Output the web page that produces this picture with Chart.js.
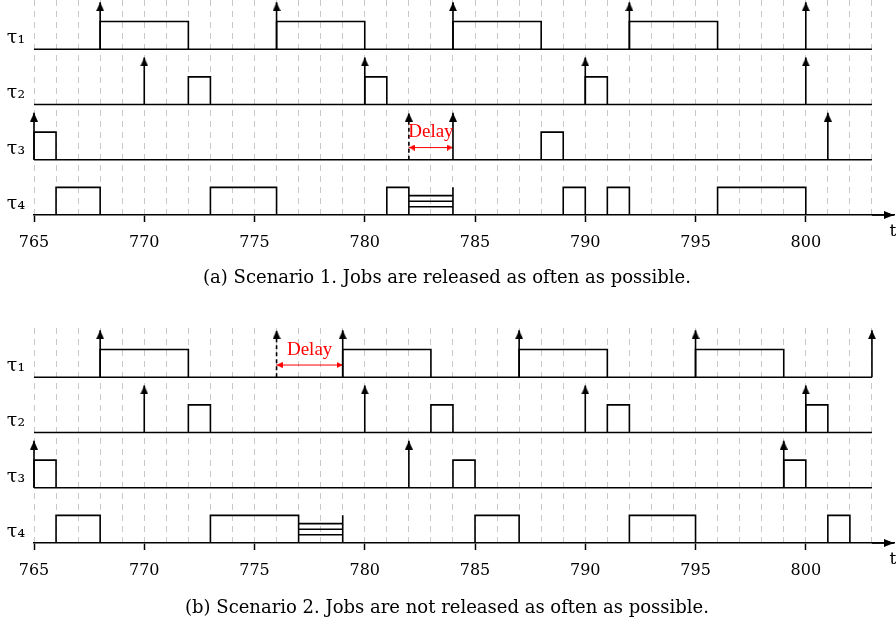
<!DOCTYPE html>
<html>
<head>
<meta charset="utf-8">
<script src="https://cdn.jsdelivr.net/npm/chart.js@4.4.1/dist/chart.umd.min.js"></script>
<style>
  html, body { margin: 0; padding: 0; background: #fff; }
  .panel { position: absolute; left: 0; width: 896px; height: 297px; }
</style>
</head>
<body>
<div class="panel" style="top:0"><canvas id="scenario1"></canvas></div>
<div class="panel" style="top:328px"><canvas id="scenario2"></canvas></div>
<script>
// time axis
const tMin = 765, tMax = 803, tEnd = 804;
const tickLabels = [765, 770, 775, 780, 785, 790, 795, 800];
const taskNames = ['τ₁', 'τ₂', 'τ₃', 'τ₄'];
const axisName = 't';
const delayText = 'Delay';

// scenario 1 - one list per task (tau1..tau4)
const s1Releases = [[768, 776, 784, 792, 800], [770, 780, 790, 800], [765, 784, 801], []];
const s1Earliest = [[], [], [782], []];
const s1Jobs = [
  [[768, 772], [776, 780], [784, 788], [792, 796]],
  [[772, 773], [780, 781], [790, 791]],
  [[765, 766], [788, 789]],
  [[766, 768], [773, 776], [781, 782], [789, 790], [791, 792], [796, 800]]
];
const s1Blocked = [[], [], [], [[782, 784]]];
const s1Delay = [2, 782, 784]; // task index, from, to
const s1Caption = '(a) Scenario 1. Jobs are released as often as possible.';

// scenario 2
const s2Releases = [[768, 779, 787, 795, 803], [770, 780, 790, 800], [765, 782, 799], []];
const s2Earliest = [[776], [], [], []];
const s2Jobs = [
  [[768, 772], [779, 783], [787, 791], [795, 799]],
  [[772, 773], [783, 784], [791, 792], [800, 801]],
  [[765, 766], [784, 785], [799, 800]],
  [[766, 768], [773, 777], [785, 787], [792, 795], [801, 802]]
];
const s2Blocked = [[], [], [], [[777, 779]]];
const s2Delay = [0, 776, 779];
const s2Caption = '(b) Scenario 2. Jobs are not released as often as possible.';

// drawing sizes, in row units
const BOX_H = 0.5, ARROW_H = 0.85, DELAY_Y = 0.22, DELAY_TEXT_Y = 0.5, LABEL_Y = 0.2;
const HATCH = [0.3, 0.5, 0.7];
const INK = '#000', GRID = '#c8c8c8', RED = '#ff0000';
const SERIF = '"DejaVu Serif", serif';

const base = r => taskNames.length - 1 - r;
const gap = x => ({x: x, y: null});

// arrow head picture with its tip in the centre
function headImage(len, half, color) {
    const c = document.createElement('canvas');
    c.width = Math.round(half * 2);
    c.height = len * 2;
    const g = c.getContext('2d');
    g.fillStyle = color;
    g.beginPath();
    g.moveTo(c.width / 2, len);
    g.lineTo(c.width, len * 2);
    g.lineTo(0, len * 2);
    g.closePath();
    g.fill();
    return c;
}
const blackHead = headImage(9, 4, INK);
const redHead = headImage(6, 3, RED);
const axisHead = headImage(10, 4, INK);

function baselinePoints() {
    const pts = [];
    for (let r = 0; r < taskNames.length - 1; r++) {
        pts.push({x: tMin, y: base(r)}, {x: tMax, y: base(r)}, gap(tMax));
    }
    return pts;
}

function boxPoints(jobs) {
    const pts = [];
    jobs.forEach((list, r) => list.forEach(([a, b]) => {
        const y0 = base(r), y1 = y0 + BOX_H;
        pts.push({x: a, y: y0}, {x: a, y: y1}, {x: b, y: y1}, {x: b, y: y0}, gap(b));
    }));
    return pts;
}

function hatchPoints(blocked) {
    const pts = [];
    blocked.forEach((list, r) => list.forEach(([a, b]) => {
        const y0 = base(r);
        HATCH.forEach(f => pts.push({x: a, y: y0 + f * BOX_H}, {x: b, y: y0 + f * BOX_H}, gap(b)));
        pts.push({x: b, y: y0}, {x: b, y: y0 + BOX_H}, gap(b));
    }));
    return pts;
}

function arrowPoints(list) {
    const pts = [];
    list.forEach((xs, r) => xs.forEach(x => {
        pts.push({x: x, y: base(r)}, {x: x, y: base(r) + ARROW_H, tip: true}, gap(x));
    }));
    return pts;
}

function lineSet(data, extra) {
    return Object.assign({
        data: data, borderColor: INK, borderWidth: 1.6, pointRadius: 0,
        fill: false, tension: 0, clip: false, spanGaps: false
    }, extra || {});
}

// red "Delay" text and the axis name
const textPlugin = {
    id: 'textPlugin',
    afterDatasetsDraw(chart, args, opts) {
        const [r, a, b] = opts.delay;
        const {x, y} = chart.scales;
        const ctx = chart.ctx;
        ctx.save();
        ctx.textAlign = 'center';
        ctx.textBaseline = 'middle';
        ctx.fillStyle = RED;
        ctx.font = '19px "Liberation Serif", serif';
        ctx.fillText(delayText, x.getPixelForValue((a + b) / 2), y.getPixelForValue(base(r) + DELAY_TEXT_Y));
        ctx.fillStyle = INK;
        ctx.font = '17px ' + SERIF;
        ctx.fillText(axisName, x.getPixelForValue(tEnd) - 1, chart.chartArea.bottom + 17);
        ctx.restore();
    }
};

function makeChart(id, releases, earliest, jobs, blocked, delay, caption, capTop) {
    const ctx = document.getElementById(id).getContext('2d');
    return new Chart(ctx, {
        type: 'line',
        data: {
            datasets: [
                lineSet(baselinePoints()),
                lineSet(boxPoints(jobs)),
                lineSet(hatchPoints(blocked)),
                lineSet(arrowPoints(releases), {
                    pointStyle: blackHead,
                    pointRadius: c => (c.raw && c.raw.tip ? 4 : 0)
                }),
                lineSet(arrowPoints(earliest), {
                    borderDash: [4, 3],
                    pointStyle: blackHead,
                    pointRadius: c => (c.raw && c.raw.tip ? 4 : 0)
                }),
                lineSet([
                    {x: delay[1], y: base(delay[0]) + DELAY_Y, head: -90},
                    {x: delay[2], y: base(delay[0]) + DELAY_Y, head: 90}
                ], {
                    borderColor: RED, borderWidth: 1,
                    pointStyle: redHead, pointRadius: 3,
                    pointRotation: c => (c.raw ? c.raw.head : 0)
                }),
                lineSet([{x: tMax, y: 0}, {x: tEnd, y: 0, head: 90}], {
                    pointStyle: axisHead,
                    pointRadius: c => (c.raw && c.raw.head ? 4 : 0),
                    pointRotation: 90
                })
            ]
        },
        options: {
            responsive: true,
            maintainAspectRatio: false,
            animation: false,
            events: [],
            layout: {autoPadding: false, padding: {left: 0, right: 2, top: 0, bottom: 0}},
            plugins: {
                legend: {display: false},
                tooltip: {enabled: false},
                title: {
                    display: true, position: 'bottom', text: caption, color: INK,
                    font: {family: SERIF, size: 18, weight: 'normal'},
                    padding: {top: capTop, bottom: 20.4 - capTop}
                },
                textPlugin: {delay: delay}
            },
            scales: {
                x: {
                    type: 'linear', min: tMin, max: tEnd,
                    afterFit: s => { s.height = 40; s.paddingLeft = 0; s.paddingRight = 0; },
                    grid: {
                        color: c => (c.tick && c.tick.value <= tMax ? GRID : 'rgba(0,0,0,0)'),
                        lineWidth: 1,
                        tickLength: 7,
                        tickWidth: 1.5,
                        tickColor: c => (c.tick && tickLabels.includes(c.tick.value) ? INK : 'rgba(0,0,0,0)')
                    },
                    border: {display: true, color: INK, width: 1.6, dash: [6, 5]},
                    ticks: {
                        stepSize: 1, autoSkip: false, maxRotation: 0, minRotation: 0,
                        padding: 11, color: INK,
                        font: {family: SERIF, size: 16},
                        callback: v => (tickLabels.includes(v) ? String(v) : '')
                    }
                },
                y: {
                    min: 0, max: 3.89,
                    afterFit: s => { s.width = 34; s.paddingTop = 0; s.paddingBottom = 0; },
                    afterBuildTicks: s => { s.ticks = taskNames.map((_, i) => ({value: i + LABEL_Y})); },
                    grid: {display: false, drawTicks: false},
                    border: {display: false},
                    ticks: {
                        padding: 9, color: INK,
                        font: {family: SERIF, size: 19},
                        callback: (v, i) => taskNames[taskNames.length - 1 - i]
                    }
                }
            }
        },
        plugins: [textPlugin]
    });
}

document.addEventListener('DOMContentLoaded', function() {
    makeChart('scenario1', s1Releases, s1Earliest, s1Jobs, s1Blocked, s1Delay, s1Caption, 13);
    makeChart('scenario2', s2Releases, s2Earliest, s2Jobs, s2Blocked, s2Delay, s2Caption, 15);
});
</script>
</body>
</html>
